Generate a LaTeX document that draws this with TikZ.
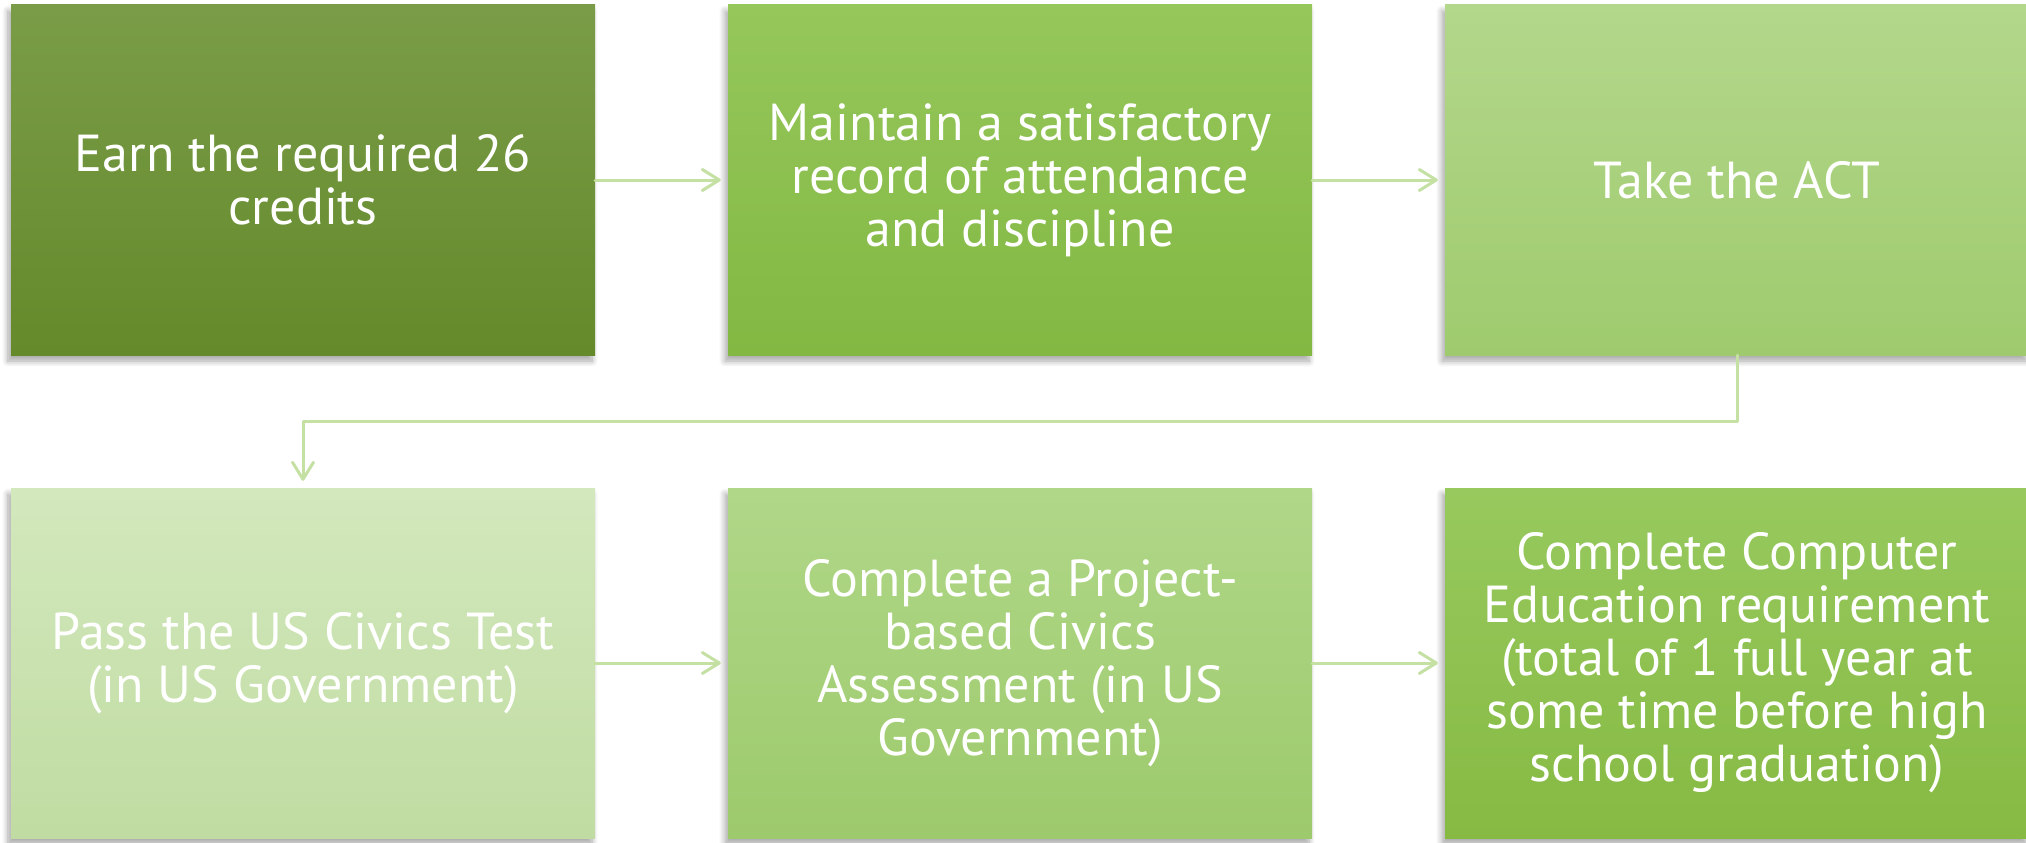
\documentclass[tikz,border=0pt]{standalone}
\usepackage{fontspec}
\setmainfont{PT Sans}
\usetikzlibrary{arrows.meta,shadows.blur}
\definecolor{aT}{HTML}{7A9C48}\definecolor{aB}{HTML}{648A2B}
\definecolor{bT}{HTML}{95C75B}\definecolor{bB}{HTML}{83B843}
\definecolor{cT}{HTML}{B3D78B}\definecolor{cB}{HTML}{9FCB6E}
\definecolor{dT}{HTML}{D3E8BD}\definecolor{dB}{HTML}{C0DCA2}
\definecolor{eT}{HTML}{B0D788}\definecolor{eB}{HTML}{9DCA6C}
\definecolor{fT}{HTML}{97C95E}\definecolor{fB}{HTML}{86BA43}
\definecolor{conn}{HTML}{C4E0A3}
\tikzset{
  stepbox/.style={minimum width=584pt,minimum height=350pt,inner sep=0pt,
    text=white,align=center,
    font=\fontsize{52pt}{53pt}\selectfont,
    blur shadow={shadow xshift=-3pt,shadow yshift=-6pt,shadow blur radius=6pt,shadow blur steps=8,shadow opacity=35}},
  link/.style={draw=conn,line width=3pt,line cap=round,line join=round,
    -{Straight Barb[length=17pt,width=21pt,line width=3pt,round]}},
}
\begin{document}
\begin{tikzpicture}[x=1pt,y=-1pt]
\useasboundingbox (0,0) rectangle (2026,843);
\node[stepbox,top color=aT,bottom color=aB] (b1) at (303,180) {Earn the required 26\\credits};
\node[stepbox,top color=bT,bottom color=bB] (b2) at (1020,180) {Maintain a satisfactory\\record of attendance\\and discipline};
\node[stepbox,top color=cT,bottom color=cB] (b3) at (1737,180) {Take the ACT};
\node[stepbox,top color=dT,bottom color=dB] (b4) at (303,663) {Pass the US Civics Test\\(in US Government)};
\node[stepbox,top color=eT,bottom color=eB] (b5) at (1020,663) {Complete a Project-\\based Civics\\Assessment (in US\\Government)};
\node[stepbox,top color=fT,bottom color=fB] (b6) at (1737,663) {Complete Computer\\Education requirement\\(total of 1 full year at\\some time before high\\school graduation)};
\coordinate (turn1) at (1737,421);
\coordinate (turn2) at (303,421);
\draw[link,shorten >=7pt] (b1.east) -- (b2.west);
\draw[link,shorten >=7pt] (b2.east) -- (b3.west);
\draw[link,shorten >=7pt] (b3.south) -- (turn1) -- (turn2) -- (b4.north);
\draw[link,shorten >=7pt] (b4.east) -- (b5.west);
\draw[link,shorten >=7pt] (b5.east) -- (b6.west);
\end{tikzpicture}
\end{document}
